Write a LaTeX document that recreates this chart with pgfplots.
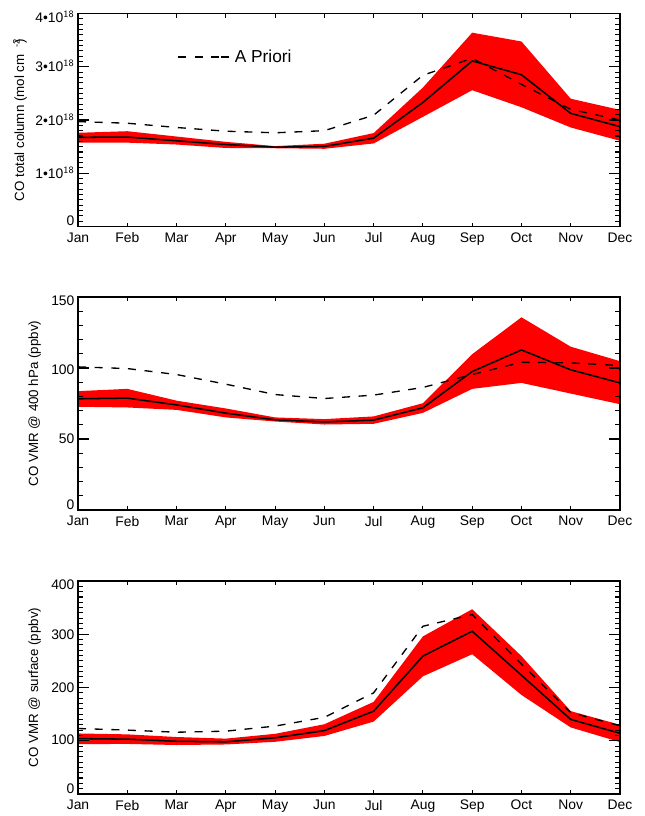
\documentclass[border=0pt]{standalone}
\usepackage{pgfplots}
\pgfplotsset{compat=1.18}
\usepackage{fontspec}
\setmainfont{Liberation Sans}
\newcommand{\yl}[2]{\raisebox{\dimexpr-3.6pt+#1pt\relax}[0pt][0pt]{#2}}
\newcommand{\axticks}[2]{%
  \foreach \i in {1,...,10}{%
    \pgfmathsetmacro\fx{\i/11}%
    \draw[black,line width=0.8pt] (axis description cs:\fx,0)--++(0,3pt);
    \draw[black,line width=0.8pt] (axis description cs:\fx,1)--++(0,-3pt);
  }%
  \pgfmathtruncatemacro\nt{#1*#2}%
  \pgfmathtruncatemacro\mt{\nt-1}%
  \foreach \i in {1,...,\mt}{%
    \pgfmathsetmacro\fy{\i/\nt}%
    \pgfmathsetmacro\ln{ifthenelse(mod(\i,#2)==0,8,4)}%
    \draw[black,line width=0.8pt] (axis description cs:0,\fy)--++(\ln pt,0);
    \draw[black,line width=0.8pt] (axis description cs:1,\fy)--++(-\ln pt,0);
  }%
}
\tikzset{
  dashln/.style={black, line width=1pt, dash pattern=on 6pt off 6.5pt},
  meanln/.style={black, line width=1.15pt},
}
\pgfplotsset{
  panel/.style={
    scale only axis, width=406.5pt, height=159.75pt,
    xmin=0, xmax=11, xtick={0,...,11},
    xticklabels={Jan,Feb,Mar,Apr,May,Jun,Jul,Aug,Sep,Oct,Nov,Dec},
    anchor=south west, axis line style={black, line width=1pt},
    tick align=inside, tick pos=both,
    tick style={draw=none},
    x tick label style={font=\fontsize{10.4}{12}\selectfont, yshift=-1pt},
    y tick label style={font=\fontsize{10.4}{12}\selectfont, anchor=east, inner sep=0pt, xshift=-2.5pt},
    label style={font=\fontsize{10}{12}\selectfont},
    axis on top=true,
  },
}
\begin{document}
\begin{tikzpicture}

\begin{axis}[panel, at={(58.5pt,442.1pt)},
  extra description/.code={\axticks{4}{10}},
  ymin=0, ymax=4, ytick={0,1,2,3,4},
  yticklabels={\yl{4.1}{0},
    \yl{0}{1•10$^{\mathsf{18}}$},
    \yl{-0.5}{2•10$^{\mathsf{18}}$},
    \yl{0}{3•10$^{\mathsf{18}}$},
    \yl{-3}{4•10$^{\mathsf{18}}$}},
  ylabel={CO total column (mol cm\hspace{5pt}\raisebox{3.5pt}{\scriptsize -2}\hspace{-3pt})},
  y label style={at={(axis description cs:-0.107,0.5)},rotate=0,anchor=center},
  legend style={at={(axis description cs:0.183,0.796)},anchor=west,draw=none,fill=none,inner sep=0pt,
    font=\fontsize{13}{15}\selectfont, cells={anchor=west}},
  legend cell align=left,
]
\addplot[draw=none,fill=red,forget plot] coordinates {
 (0,1.76)(1,1.79)(2,1.69)(3,1.59)(4,1.51)(5,1.555)(6,1.755)(7,2.61)(8,3.64)(9,3.475)(10,2.40)(11,2.19)
 (11,1.61)(10,1.86)(9,2.24)(8,2.56)(7,2.06)(6,1.56)(5,1.46)(4,1.47)(3,1.475)(2,1.54)(1,1.575)(0,1.575)(0,1.76)
};
\addplot[meanln,forget plot] coordinates {
 (0,1.675)(1,1.68)(2,1.61)(3,1.54)(4,1.49)(5,1.505)(6,1.66)(7,2.33)(8,3.11)(9,2.85)(10,2.125)(11,1.875)};
\addplot[dashln,legend image code/.code={\draw[dashln] (0,0)--(32pt,0);\path (32pt,0)--(40pt,0);}] coordinates {
 (0,1.97)(1,1.94)(2,1.86)(3,1.79)(4,1.76)(5,1.80)(6,2.09)(7,2.84)(8,3.16)(9,2.67)(10,2.2)(11,2.0)};
\addlegendentry{A Priori}
\end{axis}

\begin{axis}[panel, at={(58.5pt,229.5pt)},
  extra description/.code={\axticks{3}{5}},
  ymin=0, ymax=150, ytick={0,50,100,150},
  yticklabels={\yl{3.7}{0},\yl{0}{50},\yl{-1.5}{100},\yl{-3}{150}},
  ylabel={CO VMR @ 400 hPa (ppbv)},
  y label style={at={(axis description cs:-0.08,0.5)},rotate=0,anchor=center},
]
\addplot[draw=none,fill=red] coordinates {
 (0,83.7)(1,85.3)(2,77)(3,71.5)(4,65.2)(5,64)(6,65.9)(7,75.2)(8,109.7)(9,135.7)(10,115)(11,104.8)
 (11,74.5)(10,82)(9,89.5)(8,85.3)(7,68.4)(6,60.7)(5,60.2)(4,62.3)(3,65.2)(2,70.5)(1,72.2)(0,72.7)(0,83.7)
};
\addplot[meanln] coordinates {
 (0,78.3)(1,78.8)(2,74)(3,68.2)(4,63.5)(5,62)(6,63.3)(7,72)(8,97.5)(9,112.7)(10,98.7)(11,89.5)};
\addplot[dashln] coordinates {
 (0,100.8)(1,99.6)(2,95.4)(3,88.6)(4,81.3)(5,78.5)(6,80.9)(7,86.3)(8,95.4)(9,104)(10,103.6)(11,101.7)};
\end{axis}

\begin{axis}[panel, at={(58.5pt,16.5pt)},
  extra description/.code={\axticks{4}{10}},
  ymin=0, ymax=400, ytick={0,100,200,300,400},
  yticklabels={\yl{3.7}{0},\yl{0.5}{100},\yl{0}{200},\yl{0}{300},\yl{-2.5}{400}},
  ylabel={CO VMR @ surface (ppbv)},
  y label style={at={(axis description cs:-0.08,0.5)},rotate=0,anchor=center},
]
\addplot[draw=none,fill=red] coordinates {
 (0,113.7)(1,112)(2,107)(3,104)(4,113)(5,131)(6,173)(7,296)(8,347)(9,259)(10,155.6)(11,130)
 (11,97.5)(10,125)(9,186)(8,262.5)(7,221)(6,136)(5,109)(4,98)(3,93)(2,92)(1,94)(0,93.7)(0,113.7)
};
\addplot[meanln] coordinates {
 (0,104)(1,103)(2,99)(3,98)(4,105.6)(5,119)(6,155.6)(7,259)(8,305.6)(9,223)(10,140)(11,114)};
\addplot[dashln] coordinates {
 (0,123)(1,120)(2,116)(3,118)(4,127.5)(5,144)(6,190)(7,315)(8,337)(9,244)(10,153)(11,128)};
\end{axis}
\pgfresetboundingbox
\path[use as bounding box] (0,0) rectangle (483pt,612pt);
\end{tikzpicture}
\end{document}
